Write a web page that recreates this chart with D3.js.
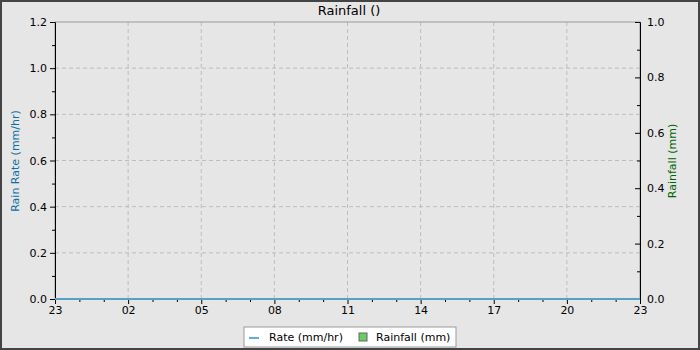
<!DOCTYPE html><html><head><meta charset="UTF-8"><script src="https://d3js.org/d3.v7.min.js"></script><style>
            body { margin: 0; }
            #chart { width: 700px; height: 350px; font-family: "DejaVu Sans", sans-serif; }
            .grid line { stroke: #bdbdbd; stroke-dasharray: 4,3; }
            .axis path, .axis line { stroke: #000; }
            .axis text { font-size: 11px; fill: #000; font-family: "DejaVu Sans", sans-serif; }
        </style></head><body><div id="chart"></div><script>
            // hourly samples, 23:00 to 23:00 the next day
            const times = ["23:00","00:00","01:00","02:00","03:00","04:00","05:00","06:00","07:00","08:00","09:00","10:00","11:00","12:00","13:00","14:00","15:00","16:00","17:00","18:00","19:00","20:00","21:00","22:00","23:00"];
            const rateValues = [0,0,0,0,0,0,0,0,0,0,0,0,0,0,0,0,0,0,0,0,0,0,0,0,0];
            const rainValues = [0,0,0,0,0,0,0,0,0,0,0,0,0,0,0,0,0,0,0,0,0,0,0,0,0];
            const rateTicks = [0, 0.2, 0.4, 0.6, 0.8, 1.0, 1.2];
            const rainTicks = [0, 0.2, 0.4, 0.6, 0.8, 1.0];

            const start = new Date(2024, 0, 1, 23);
            const dates = times.map((t, i) => new Date(start.getTime() + i * 3600e3));

            const margin = {top: 22, right: 60, bottom: 51, left: 55};
            const fullWidth = 700, fullHeight = 350;
            const width = fullWidth - margin.left - margin.right;
            const height = fullHeight - margin.top - margin.bottom;

            const root = d3.select('#chart').append('svg')
                .attr('width', fullWidth)
                .attr('height', fullHeight);

            root.append('rect')
                .attr('x', 1).attr('y', 1)
                .attr('width', fullWidth - 2).attr('height', fullHeight - 2)
                .attr('fill', '#e6e6e6')
                .attr('stroke', '#444').attr('stroke-width', 2);

            const svg = root.append('g')
                .attr('transform', `translate(${margin.left},${margin.top})`);

            const x = d3.scaleTime().domain([dates[0], dates[dates.length - 1]]).range([0, width]);
            const yRate = d3.scaleLinear().domain([0, 1.2]).range([height, 0]);
            const yRain = d3.scaleLinear().domain([0, 1.0]).range([height, 0]);

            const majorX = dates.filter((d, i) => i % 3 === 0);

            // grid
            svg.append('g').attr('class', 'grid')
                .selectAll('line').data(rateTicks.slice(1, -1)).enter().append('line')
                .attr('x1', 0).attr('x2', width)
                .attr('y1', d => yRate(d)).attr('y2', d => yRate(d));
            svg.append('g').attr('class', 'grid')
                .selectAll('line').data(majorX.slice(1, -1)).enter().append('line')
                .attr('y1', 0).attr('y2', height)
                .attr('x1', d => x(d)).attr('x2', d => x(d));

            // frame
            svg.append('rect')
                .attr('width', width).attr('height', height)
                .attr('fill', 'none').attr('stroke', '#999');

            // rainfall bars
            const barW = width / (dates.length - 1) * 0.8;
            svg.selectAll('.bar').data(rainValues).enter().append('rect')
                .attr('class', 'bar')
                .attr('x', (d, i) => x(dates[i]) - barW / 2)
                .attr('y', d => yRain(d))
                .attr('width', barW)
                .attr('height', d => height - yRain(d))
                .attr('fill', '#66cc66');

            // left axis
            const minorRate = d3.range(0.1, 1.2, 0.2);
            svg.append('g').attr('class', 'axis')
                .call(d3.axisLeft(yRate).tickValues(minorRate).tickSize(3).tickFormat(''))
                .call(g => g.select('.domain').remove());
            svg.append('g').attr('class', 'axis')
                .call(d3.axisLeft(yRate).tickValues(rateTicks).tickSize(5).tickPadding(3).tickFormat(d3.format('.1f')))
                .call(g => g.select('.domain').attr('stroke', '#999'));

            // right axis (ticks inward)
            const minorRain = d3.range(0.1, 1.0, 0.2);
            svg.append('g').attr('class', 'axis')
                .attr('transform', `translate(${width},0)`)
                .call(d3.axisRight(yRain).tickValues(minorRain).tickSize(-3).tickFormat(''))
                .call(g => g.select('.domain').remove());
            svg.append('g').attr('class', 'axis')
                .attr('transform', `translate(${width},0)`)
                .call(d3.axisRight(yRain).tickValues(rainTicks).tickSize(-5).tickPadding(7).tickFormat(d3.format('.1f')))
                .call(g => g.select('.domain').attr('stroke', '#999'))
                .call(g => g.selectAll('text').attr('x', 7));

            // bottom axis
            svg.append('g').attr('class', 'axis')
                .attr('transform', `translate(0,${height})`)
                .call(d3.axisBottom(x).tickValues(dates.filter((d, i) => i % 3 !== 0)).tickSize(3).tickFormat(''))
                .call(g => g.select('.domain').remove());
            svg.append('g').attr('class', 'axis')
                .attr('transform', `translate(0,${height})`)
                .call(d3.axisBottom(x).tickValues(majorX).tickSize(5).tickPadding(2).tickFormat(d3.timeFormat('%H')))
                .call(g => g.select('.domain').attr('stroke', '#999'));

            // rate line, drawn over the axes
            const line = d3.line()
                .x((d, i) => x(dates[i]))
                .y(d => yRate(d));
            svg.append('path')
                .datum(rateValues)
                .attr('fill', 'none')
                .attr('stroke', '#5a9fc6')
                .attr('stroke-width', 2)
                .attr('d', line);

            // titles
            root.append('text')
                .attr('x', 349).attr('y', 15)
                .attr('text-anchor', 'middle')
                .style('font-size', '13px')
                .text('Rainfall ()');

            root.append('text')
                .attr('transform', 'translate(19,161) rotate(-90)')
                .attr('text-anchor', 'middle')
                .style('font-size', '11px')
                .attr('fill', '#0b6fa4')
                .text('Rain Rate (mm/hr)');

            root.append('text')
                .attr('transform', 'translate(676,161) rotate(-90)')
                .attr('text-anchor', 'middle')
                .style('font-size', '11px')
                .attr('fill', '#006400')
                .text('Rainfall (mm)');

            // legend
            const legend = root.append('g').attr('transform', 'translate(244,327)');
            legend.append('rect')
                .attr('width', 212).attr('height', 20)
                .attr('fill', '#fff').attr('stroke', '#999');
            legend.append('line')
                .attr('x1', 5).attr('x2', 15).attr('y1', 11).attr('y2', 11)
                .attr('stroke', '#5aafe0').attr('stroke-width', 2);
            legend.append('text')
                .attr('x', 25).attr('y', 14)
                .style('font-size', '11px')
                .text('Rate (mm/hr)');
            legend.append('rect')
                .attr('x', 115).attr('y', 6).attr('width', 8).attr('height', 8)
                .attr('fill', '#66cc66').attr('stroke', '#666');
            legend.append('text')
                .attr('x', 132).attr('y', 14)
                .style('font-size', '11px')
                .text('Rainfall (mm)');
        </script></body></html>
